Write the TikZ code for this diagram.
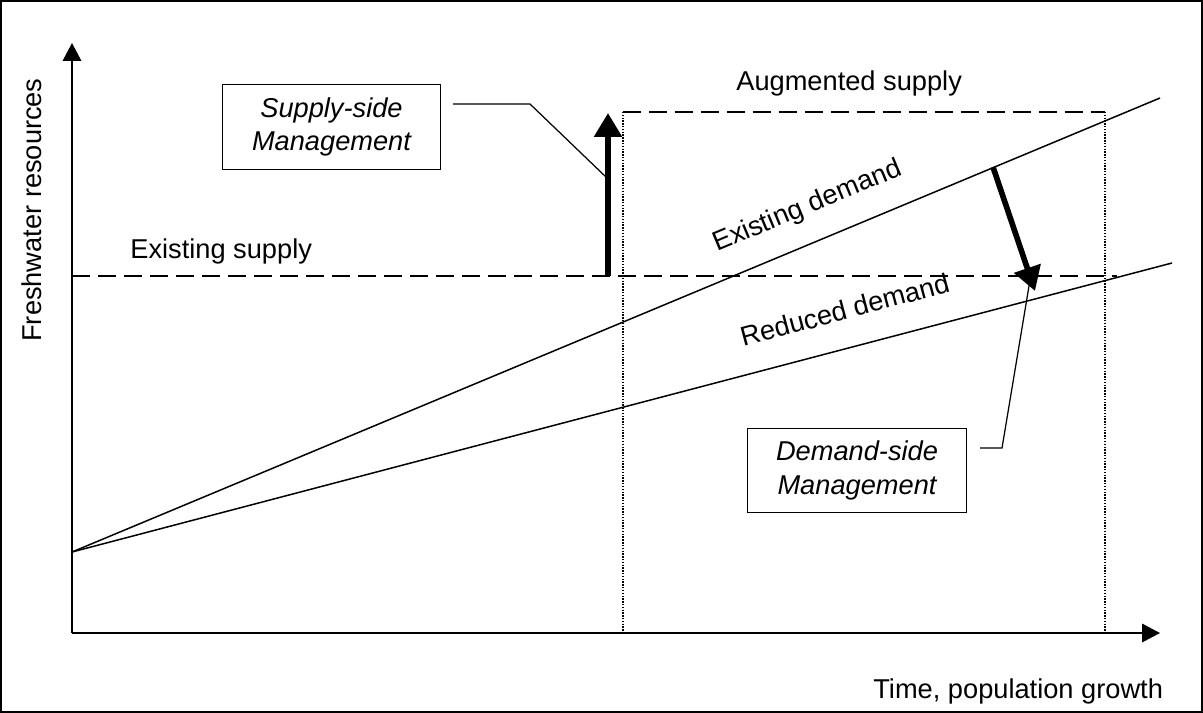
\documentclass[tikz,border=0pt]{standalone}
\usepackage{fontspec}
\setmainfont{Liberation Sans}
\usetikzlibrary{arrows.meta}

\begin{document}
\begin{tikzpicture}[x=0.02cm, y=-0.02cm, font=\fontsize{15.5}{18}\selectfont,
    axis/.style = {line width=1.1pt, -{Triangle[length=0.36cm, width=0.37cm]}},
    curve/.style = {line width=0.85pt},
    level/.style = {line width=0.9pt, dash pattern=on 0.36cm off 0.16cm},
    limit/.style = {line width=0.7pt, dash pattern=on 0.8pt off 0.8pt},
    move/.style = {line width=3.2pt, -{Triangle[length=0.48cm, width=0.54cm]}},
    lead/.style = {line width=0.7pt},
    lbl/.style = {inner sep=0pt, anchor=base west},
    tag/.style = {draw, line width=0.8pt, align=center, inner sep=0pt,
        minimum width=4.37cm, minimum height=1.69cm,
        font=\itshape\fontsize{15.5}{19}\selectfont}]
    \useasboundingbox (0,0) rectangle (1203,713);
    \draw[line width=1pt] (1,1) rectangle (1202,712);

    % axes
    \coordinate (O) at (72,633);
    \coordinate (ytop) at (72,43);
    \coordinate (xend) at (1160,633);
    \draw[axis] (O) -- (ytop);
    \draw[axis] (O) -- (xend);

    % demand lines
    \coordinate (d0) at (72,552);
    \coordinate (d1) at (1160,98);
    \coordinate (r1) at (1172,263);
    \draw[curve] (d0) -- (d1);
    \draw[curve] (d0) -- (r1);

    % supply levels and limits
    \coordinate (s0) at (72,276);
    \coordinate (s1) at (1117,276);
    \coordinate (a0) at (623,112);
    \coordinate (a1) at (1105,112);
    \draw[level] (s0) -- (s1);
    \draw[level] (a0) -- (a1);
    \draw[limit] (a0) -- (a0 |- O);
    \draw[limit] (a1) -- (a1 |- O);

    % management arrows
    \coordinate (up0) at (608,276);
    \coordinate (up1) at (608,113);
    \coordinate (dn0) at (993,167);
    \coordinate (dn1) at (1035,291);
    \draw[move] (up0) -- (up1);
    \draw[move] (dn0) -- (dn1);

    % boxes
    \node[tag] (sbox) at (331.5,127) {Supply-side\\Management};
    \node[tag] (dbox) at (857,470.5) {Demand-side\\Management};

    \coordinate (sl0) at (453,104);
    \coordinate (sl1) at (530,104);
    \coordinate (sl2) at (607,178);
    \draw[lead] (sl0) -- (sl1) -- (sl2);
    \coordinate (dl0) at (980,448);
    \coordinate (dl1) at (1002,448);
    \coordinate (dl2) at (1030,280);
    \draw[lead] (dl0) -- (dl1) -- (dl2);

    % labels
    \node[lbl] (esup) at (130,258) {Existing supply};
    \node[lbl] (asup) at (736,91) {Augmented supply};
    \node[lbl] (xlab) at (873,698) {Time, population growth};
    \node[inner sep=0pt, anchor=base, rotate=90] (ylab) at (41,210) {Freshwater resources};
    \node[lbl, rotate=22.6] (edem) at (717,252) {Existing demand};
    \node[lbl, rotate=15] (rdem) at (743,347) {Reduced demand};
\end{tikzpicture}
\end{document}
